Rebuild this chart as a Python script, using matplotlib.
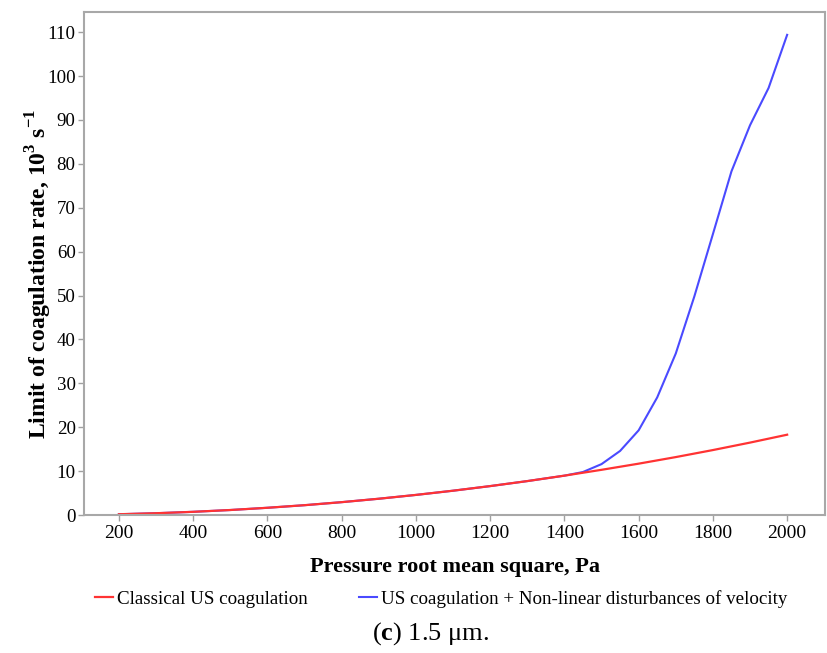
import matplotlib
matplotlib.use("Agg")
import matplotlib.pyplot as plt

plt.rcParams['font.family'] = ['Liberation Serif', 'DejaVu Serif']
plt.rcParams['mathtext.fontset'] = 'custom'
plt.rcParams['mathtext.rm'] = 'Liberation Serif'
plt.rcParams['mathtext.bf'] = 'Liberation Serif:bold'

# Data
pressure_classical = [200, 300, 400, 500, 600, 700, 800, 900, 1000, 1100, 1200, 1300, 1400,
                      1500, 1600, 1700, 1800, 1900, 2000]
rate_classical = [0.18, 0.41, 0.73, 1.14, 1.65, 2.24, 2.93, 3.71, 4.58, 5.54, 6.59, 7.73, 8.97,
                  10.3, 11.7, 13.2, 14.8, 16.5, 18.3]

pressure_nonlinear = [200, 300, 400, 500, 600, 700, 800, 900, 1000, 1100, 1200, 1300, 1400,
                      1450, 1500, 1550, 1600, 1650, 1700, 1750, 1800, 1850, 1900, 1950, 2000]
rate_nonlinear = [0.18, 0.41, 0.73, 1.14, 1.65, 2.24, 2.93, 3.71, 4.58, 5.54, 6.59, 7.73, 8.97,
                  9.8, 11.6, 14.6, 19.3, 26.8, 36.8, 49.8, 64.0, 78.3, 88.8, 97.3, 109.4]

x_ticks = [200, 400, 600, 800, 1000, 1200, 1400, 1600, 1800, 2000]
y_ticks = [0, 10, 20, 30, 40, 50, 60, 70, 80, 90, 100, 110]

label_classical = "Classical US coagulation"
label_nonlinear = "US coagulation + Non-linear disturbances of velocity"

fig = plt.figure(figsize=(8.27, 6.53), dpi=100)
ax = fig.add_axes([0.1016, 0.2113, 0.8960, 0.7703])

ax.plot(pressure_nonlinear, rate_nonlinear, color='#4a4aff', lw=1.5, label=label_nonlinear)
ax.plot(pressure_classical, rate_classical, color='#ff3333', lw=1.6, label=label_classical)

ax.set_xlim(106, 2102)
ax.set_ylim(0, 114.6)
ax.set_xticks(x_ticks)
ax.set_yticks(y_ticks)
ax.tick_params(axis='both', direction='out', length=4, width=1, color='#a0a0a0',
               labelsize=14, pad=3)
ax.tick_params(axis='y', labelsize=13.6, pad=2)
for s in ax.spines.values():
    s.set_color('#a8a8a8')
    s.set_linewidth(1.5)

ax.set_xlabel("Pressure root mean square, Pa", fontsize=16, fontweight='bold', labelpad=11)
ax.set_ylabel(r"Limit of coagulation rate, 10$^{\mathbf{3}}$ s$^{\mathbf{-1}}$",
              fontsize=17, fontweight='bold')
ax.yaxis.set_label_coords(-0.0405, 0.479)

h, l = ax.get_legend_handles_labels()
fig.legend([h[1], h[0]], [l[1], l[0]], loc='center', bbox_to_anchor=(0.534, 0.083),
           ncol=2, frameon=False, fontsize=13.7, handlelength=0.9, handletextpad=0.25,
           columnspacing=2.7)

fig.text(0.52, 0.030, r"($\mathbf{c}$) 1.5 μm.", ha='center', va='center', fontsize=19)

fig.savefig("out.png", dpi=100)
